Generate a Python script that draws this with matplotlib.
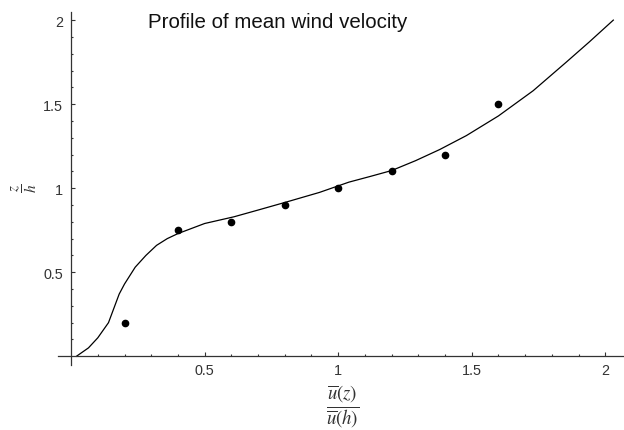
import numpy as np
import matplotlib.pyplot as plt
from matplotlib.ticker import FixedLocator

plt.rcParams['font.family'] = ['Liberation Sans', 'DejaVu Sans']
plt.rcParams['mathtext.fontset'] = 'stix'

# measured points
pts_x = [0.2, 0.4, 0.6, 0.8, 1.0, 1.2, 1.4, 1.6]
pts_y = [0.2, 0.75, 0.8, 0.9, 1.0, 1.1, 1.2, 1.5]

# fitted profile
curve_x = [0.02, 0.065, 0.10, 0.14, 0.18, 0.20, 0.24, 0.28, 0.32, 0.36, 0.40, 0.50, 0.61,
           0.70, 0.80, 0.93, 1.04, 1.12, 1.20, 1.29, 1.38, 1.48, 1.60, 1.73, 1.854, 1.94, 2.03]
curve_y = [0.0, 0.05, 0.11, 0.20, 0.37, 0.43, 0.53, 0.60, 0.66, 0.70, 0.73, 0.79, 0.83,
           0.87, 0.915, 0.975, 1.036, 1.07, 1.105, 1.164, 1.23, 1.313, 1.43, 1.58, 1.75, 1.87, 2.0]

major_ticks = [0.5, 1.0, 1.5, 2.0]
major_labels = ['0.5', '1', '1.5', '2']
minor_ticks = [i / 10 for i in range(1, 21) if i % 5 != 0]

title = 'Profile of mean wind velocity'

fig = plt.figure(figsize=(6.24, 4.31), dpi=100)
ax = fig.add_axes([58 / 624, 1 - 365.7 / 431, 1 - 58 / 624, (365.7 - 12.7) / 431])

ax.plot(curve_x, curve_y, color='black', lw=0.9)
ax.plot(pts_x, pts_y, 'o', color='black', ms=4.5)

ax.set_xlim(-0.049, 2.07)
ax.set_ylim(-0.05, 2.05)

for s in ['top', 'right']:
    ax.spines[s].set_visible(False)
ax.spines['left'].set_position(('data', 0))
ax.spines['bottom'].set_position(('data', 0))
for s in ['left', 'bottom']:
    ax.spines[s].set_color('#333333')
    ax.spines[s].set_linewidth(0.9)

for axis in (ax.xaxis, ax.yaxis):
    axis.set_major_locator(FixedLocator(major_ticks))
    axis.set_minor_locator(FixedLocator(minor_ticks))
ax.set_xticklabels(major_labels)
ax.set_yticklabels(major_labels)
ax.tick_params(which='both', direction='in', color='#333333', labelcolor='#333333',
               labelsize=10.4, width=0.8)
ax.tick_params(which='major', length=3)
ax.tick_params(which='minor', length=1.7)
ax.tick_params(axis='x', pad=5)
ax.tick_params(axis='y', pad=6)

fig.text(148 / 624, 1 - 22 / 431, title, fontsize=14.8, ha='left', va='center',
         color='#111111')

fig.text(24 / 624, 1 - 188 / 431, r'$\dfrac{z}{h}$', fontsize=11, rotation=90,
         ha='center', va='center', color='#333333')
fig.text(343 / 624, 1 - 407 / 431, r'$\dfrac{\overline{u}(z)}{\overline{u}(h)}$',
         fontsize=13.5, ha='center', va='center', color='#333333')

fig.savefig('out.png', dpi=100)
